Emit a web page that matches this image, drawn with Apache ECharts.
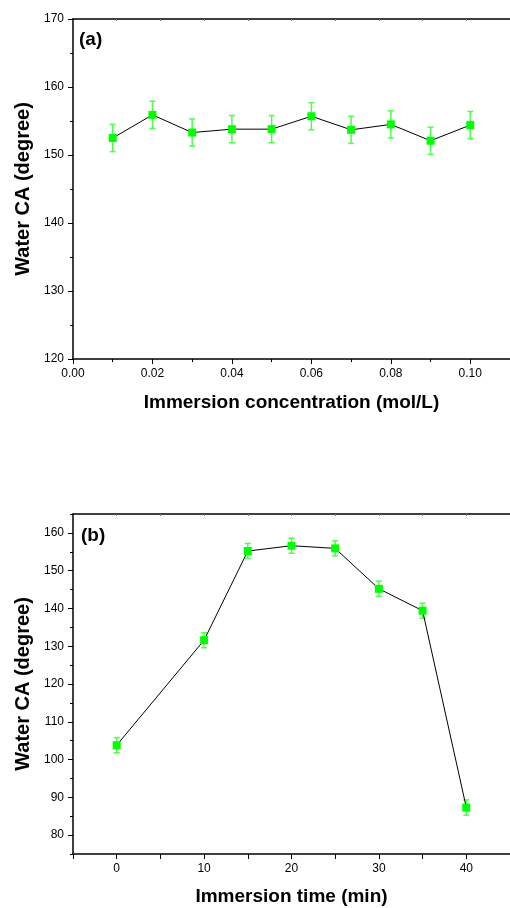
<!DOCTYPE html>
<html>
<head>
<meta charset="utf-8">
<script src="https://cdn.jsdelivr.net/npm/echarts@6/dist/echarts.min.js"></script>
<style>
html,body{margin:0;padding:0;background:#fff;}
#c{width:510px;height:908px;}
</style>
</head>
<body>
<div id="c"></div>
<script>
// ---- Panel (a): immersion concentration ----
const concX   = [0.01, 0.02, 0.03, 0.04, 0.05, 0.06, 0.07, 0.08, 0.09, 0.10];
const concCA  = [152.5, 155.9, 153.3, 153.8, 153.8, 155.7, 153.7, 154.5, 152.1, 154.4];
const concErr = [2.0, 2.0, 2.0, 2.0, 2.0, 2.0, 2.0, 2.0, 2.0, 2.0];
const concXTicks = [0.00, 0.02, 0.04, 0.06, 0.08, 0.10];
const concXMinor = [0.01, 0.03, 0.05, 0.07, 0.09, 0.11];
const concYTicks = [120, 130, 140, 150, 160, 170];
const concYMinor = [125, 135, 145, 155, 165];

// ---- Panel (b): immersion time ----
const timeX   = [0, 10, 15, 20, 25, 30, 35, 40];
const timeCA  = [103.8, 131.6, 155.2, 156.6, 155.9, 145.2, 139.4, 87.3];
const timeErr = [2.0, 2.0, 2.0, 2.0, 2.0, 2.0, 2.0, 2.0];
const timeXTicks = [0, 10, 20, 30, 40];
const timeXMinor = [-5, 5, 15, 25, 35, 45];
const timeYTicks = [80, 90, 100, 110, 120, 130, 140, 150, 160];
const timeYMinor = [75, 85, 95, 105, 115, 125, 135, 145, 155, 165];
const topTicks = [0, 5, 10, 15, 20, 25, 30, 35, 40];

const FONT = "'Liberation Sans', Arial, sans-serif";
const GREEN = '#00ff00';
const ERR = '#4cff4c';

const concPts = concX.map((x, i) => [x, concCA[i], concErr[i]]);
const timePts = timeX.map((x, i) => [x, timeCA[i], timeErr[i]]);

function errRender(params, api) {
  const x = api.value(0), y = api.value(1), e = api.value(2);
  const t = api.coord([x, y + e]);
  const b = api.coord([x, y - e]);
  const hw = 3;
  const st = { stroke: ERR, lineWidth: 1.5 };
  return {
    type: 'group',
    children: [
      { type: 'line', shape: { x1: t[0], y1: t[1], x2: b[0], y2: b[1] }, style: st },
      { type: 'line', shape: { x1: t[0] - hw, y1: t[1], x2: t[0] + hw, y2: t[1] }, style: st },
      { type: 'line', shape: { x1: b[0] - hw, y1: b[1], x2: b[0] + hw, y2: b[1] }, style: st }
    ]
  };
}

const axisLine = { show: true, onZero: false, lineStyle: { color: '#000', width: 1.5 } };
const noLine = { show: false, onZero: false };
const labelStyle = { color: '#000', fontSize: 12, fontFamily: FONT, margin: 9 };
const nameStyleX = { fontSize: 19, fontWeight: 'bold', fontFamily: FONT, color: '#000' };
const nameStyleY = { fontSize: 20, fontWeight: 'bold', fontFamily: FONT, color: '#000' };

function mainX(grid, min, max, ticks, fmt, name, gap) {
  return {
    type: 'value', gridIndex: grid, position: 'bottom', min: min, max: max,
    axisLine: axisLine,
    axisTick: { show: true, length: 5, customValues: ticks, lineStyle: { color: '#000', width: 1 } },
    axisLabel: Object.assign({ customValues: ticks, formatter: fmt }, labelStyle),
    splitLine: { show: false },
    name: name, nameLocation: 'middle', nameGap: gap, nameTextStyle: nameStyleX
  };
}
function minorX(grid, min, max, ticks, len) {
  return {
    type: 'value', gridIndex: grid, position: 'bottom', min: min, max: max,
    axisLine: noLine,
    axisTick: { show: true, length: len, customValues: ticks, lineStyle: { color: '#000', width: 1 } },
    axisLabel: { show: false }, splitLine: { show: false }
  };
}
function topX(grid) {
  return {
    type: 'value', gridIndex: grid, position: 'top', min: -5, max: 45,
    axisLine: axisLine,
    axisTick: { show: true, inside: true, length: 2, customValues: topTicks, lineStyle: { color: '#777', width: 1 } },
    axisLabel: { show: false }, splitLine: { show: false }
  };
}
function mainY(grid, min, max, ticks, name, gap) {
  return {
    type: 'value', gridIndex: grid, position: 'left', min: min, max: max,
    axisLine: axisLine,
    axisTick: { show: true, length: 5, customValues: ticks, lineStyle: { color: '#000', width: 1 } },
    axisLabel: Object.assign({ customValues: ticks, formatter: v => String(Math.round(v)) }, labelStyle),
    splitLine: { show: false },
    name: name, nameLocation: 'middle', nameGap: gap, nameTextStyle: nameStyleY
  };
}
function minorY(grid, min, max, ticks) {
  return {
    type: 'value', gridIndex: grid, position: 'left', min: min, max: max,
    axisLine: noLine,
    axisTick: { show: true, length: 3, customValues: ticks, lineStyle: { color: '#000', width: 1 } },
    axisLabel: { show: false }, splitLine: { show: false }
  };
}

const chart = echarts.init(document.getElementById('c'), null, { renderer: 'canvas' });
chart.setOption({
  backgroundColor: '#fff',
  animation: false,
  grid: [
    { left: 73, top: 19, width: 446, height: 340 },
    { left: 73, top: 514, width: 446, height: 340 }
  ],
  xAxis: [
    mainX(0, 0, 0.11, concXTicks, v => v.toFixed(2), 'Immersion concentration (mol/L)', 34),
    minorX(0, 0, 0.11, concXMinor, 3),
    topX(0),
    mainX(1, -5, 45, timeXTicks, v => String(Math.round(v)), 'Immersion time (min)', 33),
    minorX(1, -5, 45, timeXMinor, 5),
    topX(1)
  ],
  yAxis: [
    mainY(0, 120, 170, concYTicks, 'Water CA (degree)', 38),
    minorY(0, 120, 170, concYMinor),
    mainY(1, 75, 165, timeYTicks, 'Water CA (degree)', 38),
    minorY(1, 75, 165, timeYMinor)
  ],
  graphic: [
    { type: 'text', left: 79, top: 30, style: { text: '(a)', font: 'bold 19px ' + FONT, fill: '#000' } },
    { type: 'text', left: 81, top: 526, style: { text: '(b)', font: 'bold 19px ' + FONT, fill: '#000' } }
  ],
  series: [
    { type: 'custom', xAxisIndex: 0, yAxisIndex: 0, renderItem: errRender, data: concPts, encode: { x: 0, y: 1 }, z: 1, silent: true },
    { type: 'line', xAxisIndex: 0, yAxisIndex: 0, data: concPts.map(p => [p[0], p[1]]),
      symbol: 'rect', symbolSize: 8, itemStyle: { color: GREEN }, lineStyle: { color: '#000', width: 1 }, z: 2 },
    { type: 'custom', xAxisIndex: 3, yAxisIndex: 2, renderItem: errRender, data: timePts, encode: { x: 0, y: 1 }, z: 1, silent: true },
    { type: 'line', xAxisIndex: 3, yAxisIndex: 2, data: timePts.map(p => [p[0], p[1]]),
      symbol: 'rect', symbolSize: 8, itemStyle: { color: GREEN }, lineStyle: { color: '#000', width: 1 }, z: 2 }
  ]
});
</script>
</body>
</html>
